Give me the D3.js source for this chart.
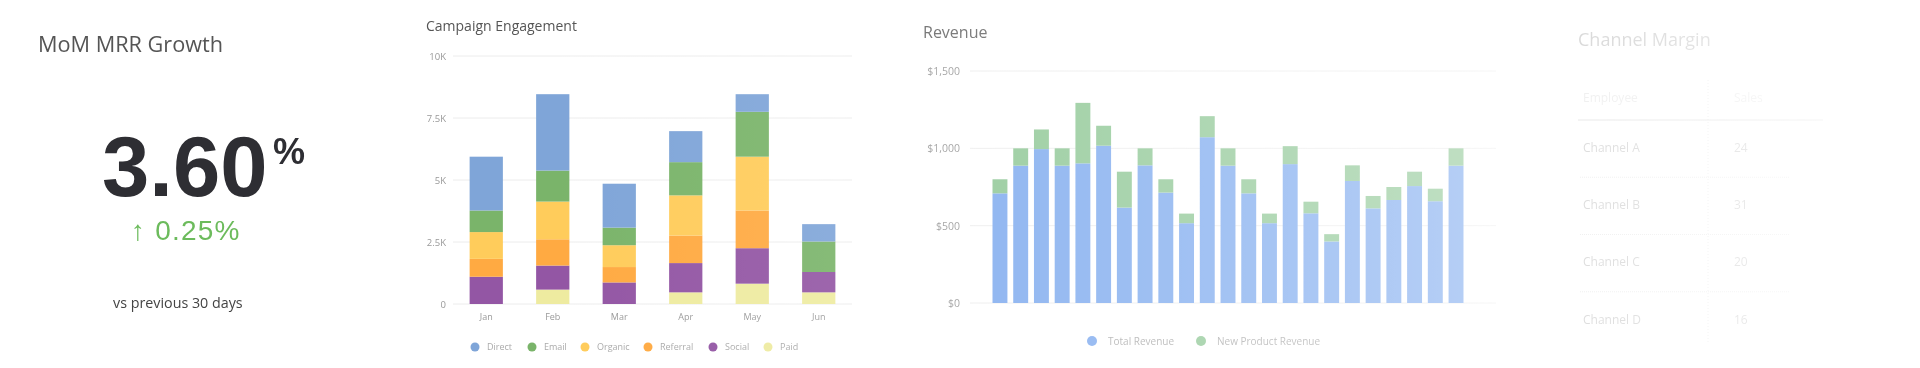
<!DOCTYPE html>
<html>
<head>
<meta charset="utf-8">
<script src="https://cdn.jsdelivr.net/npm/d3@7"></script>
<style>
  html, body { margin: 0; padding: 0; background: #fff; }
  svg { display: block; font-family: "Open Sans", "Noto Sans", sans-serif; }
</style>
</head>
<body>
<svg id="chart" width="1920" height="368"></svg>
<script>
// ---------- DATA ----------
const kpiTitle = "MoM MRR Growth";
const kpiValue = "3.60";
const kpiUnit = "%";
const kpiDelta = "0.25%";
const kpiNote = "vs previous 30 days";

const months = ["Jan", "Feb", "Mar", "Apr", "May", "Jun"];
const campaignSeries = ["Paid", "Social", "Referral", "Organic", "Email", "Direct"]; // bottom -> top
const legendOrder = ["Direct", "Email", "Organic", "Referral", "Social", "Paid"];
const paid     = [0,    580,  0,    470,  820,  470];
const social   = [1100, 970,  870,  1180, 1430, 820];
const referral = [720,  1060, 620,  1110, 1520, 0];
const organic  = [1080, 1520, 880,  1620, 2170, 0];
const email    = [870,  1250, 710,  1340, 1810, 1230];
const direct   = [2170, 3080, 1770, 1250, 710,  700];
const campaignTicks = [0, 2500, 5000, 7500, 10000];
const campaignTickLabels = ["0", "2.5K", "5K", "7.5K", "10K"];

const revenueIdx = d3.range(1, 24);
const totalRevenue      = [709, 888, 995, 888, 903, 1017, 617, 890, 714, 516, 1072, 888, 709, 516, 898, 580, 398, 789, 612, 666, 756, 658, 888];
const newProductRevenue = [91,  112, 127, 112, 391, 129,  232, 110, 86,  62,  136,  112, 91,  62,  116, 75,  47,  101, 80,  84,  93,  81,  112];
const revenueTicks = [0, 500, 1000, 1500];
const revenueSeries = ["Total Revenue", "New Product Revenue"];

const tableTitle = "Channel Margin";
const tableHeaders = ["Employee", "Sales"];
const channels = ["Channel A", "Channel B", "Channel C", "Channel D"];
const channelSales = [24, 31, 20, 16];

// ---------- STYLE ----------
const campaignColors = {
  Direct: "#7fa5d8", Email: "#7ab46a", Organic: "#ffcc5b",
  Referral: "#ffaa42", Social: "#9356a4", Paid: "#eeeba0"
};
const revenueColors = { "Total Revenue": "#7eaaee", "New Product Revenue": "#8fc795" };

const svg = d3.select("#chart");

// fade mask (the reference fades towards the right)
const defs = svg.append("defs");
const grad = defs.append("linearGradient").attr("id", "fadeGrad")
  .attr("gradientUnits", "userSpaceOnUse").attr("x1", 0).attr("x2", 1920).attr("y1", 0).attr("y2", 0);
[[0, 1], [560, 1], [920, 0.88], [1460, 0.58], [1580, 0.22], [1920, 0.05]].forEach(([x, o]) => {
  const g = Math.round(o * 255);
  grad.append("stop").attr("offset", x / 1920).attr("stop-color", `rgb(${g},${g},${g})`);
});
defs.append("mask").attr("id", "fadeMask").attr("maskUnits", "userSpaceOnUse")
  .attr("x", 0).attr("y", 0).attr("width", 1920).attr("height", 368)
  .append("rect").attr("width", 1920).attr("height", 368).attr("fill", "url(#fadeGrad)");

const root = svg.append("g").attr("mask", "url(#fadeMask)");

// ---------- PANEL 1: KPI ----------
const p1 = root.append("g");
p1.append("text").attr("x", 38).attr("y", 52).attr("font-size", 21.7).attr("fill", "#555").text(kpiTitle);
p1.append("text").attr("x", 102).attr("y", 196).attr("font-size", 85).attr("font-weight", 700)
  .attr("font-family", "Liberation Sans, Arial, sans-serif")
  .attr("fill", "#2e2e33").text(kpiValue);
p1.append("text").attr("x", 273).attr("y", 164).attr("font-size", 36).attr("font-weight", 700)
  .attr("font-family", "Liberation Sans, Arial, sans-serif")
  .attr("fill", "#2e2e33").text(kpiUnit);
p1.append("text").attr("x", 131).attr("y", 240).attr("font-size", 28).attr("fill", "#6cbb5c")
  .attr("letter-spacing", 1.2)
  .attr("font-family", "Liberation Sans, Arial, sans-serif")
  .text("\u2191 " + kpiDelta);
p1.append("text").attr("x", 113).attr("y", 308).attr("font-size", 14.3).attr("fill", "#444").text(kpiNote);

// ---------- PANEL 2: Campaign Engagement ----------
const p2 = root.append("g");
p2.append("text").attr("x", 426).attr("y", 31).attr("font-size", 14).attr("fill", "#555").text("Campaign Engagement");

const cx = d3.scaleBand().domain(months).range([453, 852]).paddingInner(0.5).paddingOuter(0.25);
const cy = d3.scaleLinear().domain([0, 10000]).range([304, 56]);

const seriesValues = { Paid: paid, Social: social, Referral: referral, Organic: organic, Email: email, Direct: direct };
const campaignRows = months.map((m, i) => {
  const r = { month: m };
  campaignSeries.forEach(s => r[s] = seriesValues[s][i]);
  return r;
});
const cStack = d3.stack().keys(campaignSeries)(campaignRows);

p2.append("g").selectAll("line").data(campaignTicks).join("line")
  .attr("x1", 453).attr("x2", 852).attr("y1", d => cy(d)).attr("y2", d => cy(d))
  .attr("stroke", "#ececec").attr("stroke-width", 1);

const cAxis = p2.append("g").attr("transform", "translate(446,0)")
  .call(d3.axisLeft(cy).tickValues(campaignTicks).tickFormat((d, i) => campaignTickLabels[i]).tickSize(0).tickPadding(0));
cAxis.select(".domain").remove();
cAxis.selectAll("text").attr("font-size", 9.5).attr("fill", "#999").attr("font-family", "Open Sans, sans-serif");

p2.append("g").selectAll("g").data(cStack).join("g")
  .attr("fill", d => campaignColors[d.key])
  .selectAll("rect").data(d => d).join("rect")
  .attr("x", d => cx(d.data.month))
  .attr("width", cx.bandwidth())
  .attr("y", d => cy(d[1]))
  .attr("height", d => cy(d[0]) - cy(d[1]));

const cxAxis = p2.append("g").attr("transform", "translate(0,314)")
  .call(d3.axisBottom(cx).tickSize(0).tickPadding(0));
cxAxis.select(".domain").remove();
cxAxis.selectAll("text").attr("font-size", 9).attr("fill", "#999").attr("dy", "0.71em").attr("font-family", "Open Sans, sans-serif");

const legX = [475, 532, 585, 648, 713, 768];
const cLeg = p2.append("g").selectAll("g").data(legendOrder).join("g")
  .attr("transform", (d, i) => `translate(${legX[i]},347)`);
cLeg.append("circle").attr("r", 4.5).attr("fill", d => campaignColors[d]);
cLeg.append("text").attr("x", 12).attr("dy", "0.35em").attr("font-size", 9).attr("fill", "#aaa").text(d => d);

// ---------- PANEL 3: Revenue ----------
const p3 = root.append("g");
p3.append("text").attr("x", 923).attr("y", 38).attr("font-size", 16).attr("fill", "#666").text("Revenue");

const rx = d3.scaleBand().domain(revenueIdx).range([989.6, 1466.4]).paddingInner(0.28).paddingOuter(0.14);
const ry = d3.scaleLinear().domain([0, 1500]).range([303, 71]);

p3.append("g").selectAll("line").data(revenueTicks).join("line")
  .attr("x1", 970).attr("x2", 1496).attr("y1", d => ry(d)).attr("y2", d => ry(d))
  .attr("stroke", "#ececec").attr("stroke-width", 1);

const rAxis = p3.append("g").attr("transform", "translate(960,0)")
  .call(d3.axisLeft(ry).tickValues(revenueTicks).tickFormat(d3.format("$,")).tickSize(0).tickPadding(0));
rAxis.select(".domain").remove();
rAxis.selectAll("text").attr("font-size", 10.5).attr("fill", "#999").attr("font-family", "Open Sans, sans-serif");

const revRows = revenueIdx.map((k, i) => ({ k, "Total Revenue": totalRevenue[i], "New Product Revenue": newProductRevenue[i] }));
const rStack = d3.stack().keys(revenueSeries)(revRows);
p3.append("g").selectAll("g").data(rStack).join("g")
  .attr("fill", d => revenueColors[d.key])
  .selectAll("rect").data(d => d).join("rect")
  .attr("x", d => rx(d.data.k))
  .attr("width", rx.bandwidth())
  .attr("y", d => ry(d[1]))
  .attr("height", d => ry(d[0]) - ry(d[1]));

const rLegX = [1092, 1201];
const rLeg = p3.append("g").selectAll("g").data(revenueSeries).join("g")
  .attr("transform", (d, i) => `translate(${rLegX[i]},341)`);
rLeg.append("circle").attr("r", 5).attr("fill", d => revenueColors[d]);
rLeg.append("text").attr("x", 16).attr("dy", "0.35em").attr("font-size", 10).attr("fill", "#aaa").text(d => d);

// ---------- PANEL 4: Channel Margin table ----------
const p4 = root.append("g");
p4.append("text").attr("x", 1578).attr("y", 46).attr("font-size", 18).attr("fill", "#555").text(tableTitle);

const rowY = d3.scaleBand().domain(channels).range([120, 349]);
p4.append("line").attr("x1", 1708).attr("x2", 1708).attr("y1", 80).attr("y2", 342)
  .attr("stroke", "#bbb").attr("stroke-dasharray", "1,2");
p4.append("line").attr("x1", 1578).attr("x2", 1823).attr("y1", 120).attr("y2", 120).attr("stroke", "#999");
p4.selectAll(".hdr").data(tableHeaders).join("text").attr("class", "hdr")
  .attr("x", (d, i) => i === 0 ? 1583 : 1734).attr("y", 98).attr("dy", "0.35em")
  .attr("font-size", 12).attr("fill", "#bbb").text(d => d);
p4.selectAll(".sep").data(channels.slice(0, 3)).join("line").attr("class", "sep")
  .attr("x1", 1580).attr("x2", 1790).attr("y1", d => rowY(d) + rowY.bandwidth()).attr("y2", d => rowY(d) + rowY.bandwidth())
  .attr("stroke", "#bbb").attr("stroke-dasharray", "1,1");
p4.selectAll(".ch").data(channels).join("text").attr("class", "ch")
  .attr("x", 1583).attr("y", d => rowY(d) + rowY.bandwidth() / 2 - 1).attr("dy", "0.35em")
  .attr("font-size", 12).attr("fill", "#666").text(d => d);
p4.selectAll(".val").data(channelSales).join("text").attr("class", "val")
  .attr("x", 1734).attr("y", (d, i) => rowY(channels[i]) + rowY.bandwidth() / 2 - 1).attr("dy", "0.35em")
  .attr("font-size", 12).attr("fill", "#666").text(d => d);
</script>
</body>
</html>
